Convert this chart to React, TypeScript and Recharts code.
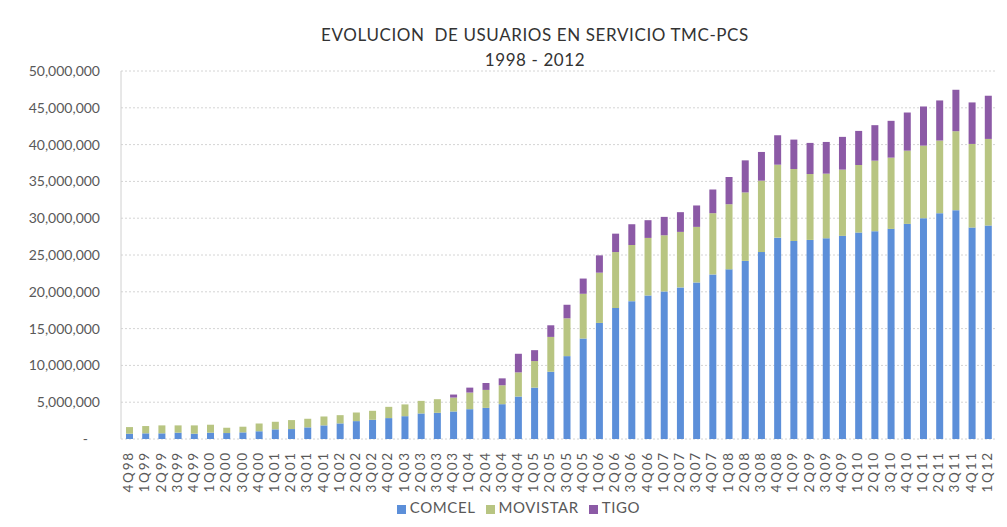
import React from 'react'
import { BarChart, Bar, XAxis, YAxis, CartesianGrid, Legend } from 'recharts'

// quarters 4Q98 .. 1Q12
const quarters = [
  '4Q98', '1Q99', '2Q99', '3Q99', '4Q99', '1Q00', '2Q00', '3Q00', '4Q00',
  '1Q01', '2Q01', '3Q01', '4Q01', '1Q02', '2Q02', '3Q02', '4Q02',
  '1Q03', '2Q03', '3Q03', '4Q03', '1Q04', '2Q04', '3Q04', '4Q04',
  '1Q05', '2Q05', '3Q05', '4Q05', '1Q06', '2Q06', '3Q06', '4Q06',
  '1Q07', '2Q07', '3Q07', '4Q07', '1Q08', '2Q08', '3Q08', '4Q08',
  '1Q09', '2Q09', '3Q09', '4Q09', '1Q10', '2Q10', '3Q10', '4Q10',
  '1Q11', '2Q11', '3Q11', '4Q11', '1Q12',
]

// users, millions
const comcel = [
  0.72, 0.77, 0.77, 0.86, 0.72, 0.86, 0.81, 0.9, 1.04,
  1.31, 1.35, 1.58, 1.85, 2.12, 2.43, 2.61, 2.84,
  3.1, 3.47, 3.56, 3.74, 4.05, 4.23, 4.73, 5.77,
  6.98, 9.14, 11.26, 13.65, 15.77, 17.8, 18.73, 19.5,
  20.05, 20.6, 21.27, 22.36, 23.05, 24.2, 25.4, 27.36,
  26.9, 27.05, 27.27, 27.6, 28.05, 28.23, 28.55, 29.23,
  30.0, 30.68, 31.09, 28.73, 29.0,
]
const movistar = [
  0.9, 0.99, 1.08, 0.99, 1.13, 1.08, 0.72, 0.77, 1.08,
  1.03, 1.22, 1.17, 1.21, 1.12, 1.17, 1.22, 1.53,
  1.6, 1.71, 1.85, 1.89, 2.26, 2.44, 2.57, 3.28,
  3.61, 4.73, 5.14, 6.08, 6.83, 7.6, 7.63, 7.82,
  7.63, 7.54, 7.55, 8.32, 8.85, 9.3, 9.7, 9.91,
  9.78, 8.95, 8.78, 9.0, 9.18, 9.59, 9.68, 9.95,
  9.86, 9.87, 10.73, 11.36, 11.77,
]
const tigo = [
  0, 0, 0, 0, 0, 0, 0, 0, 0,
  0, 0, 0, 0, 0, 0, 0, 0,
  0, 0, 0, 0.41, 0.67, 0.94, 0.94, 2.53,
  1.48, 1.58, 1.84, 2.07, 2.35, 2.5, 2.82, 2.41,
  2.5, 2.68, 2.91, 3.22, 3.7, 4.36, 3.9, 4.0,
  4.0, 4.23, 4.31, 4.45, 4.63, 4.82, 5.0, 5.18,
  5.32, 5.45, 5.63, 5.64, 5.87,
]

const yTicks = [0, 5e6, 10e6, 15e6, 20e6, 25e6, 30e6, 35e6, 40e6, 45e6, 50e6]
const boundaryTicks = quarters.map((_, i) => i).concat(quarters.length)

const data = quarters.map((q, i) => ({
  q,
  COMCEL: comcel[i] * 1e6,
  MOVISTAR: movistar[i] * 1e6,
  TIGO: tigo[i] * 1e6,
}))

const FONT = 'Lato, "Open Sans", sans-serif'
const TEXT = '#595959'

const YTick = (props: any) => {
  const { x, y, payload } = props
  const v = payload.value
  return (
    <text x={v === 0 ? x - 12 : x} y={y} dy={5} textAnchor="end" fill={TEXT} fontSize={14} fontFamily={FONT}>
      {v === 0 ? '-' : v.toLocaleString('en-US')}
    </text>
  )
}

const XTick = (props: any) => {
  const { x, y, payload } = props
  return (
    <text
      x={x}
      y={y}
      transform={`rotate(-90, ${x}, ${y})`}
      dy={4}
      textAnchor="end"
      fill={TEXT}
      fontSize={13.5}
      letterSpacing={1.8}
      fontFamily={FONT}
    >
      {payload.value}
    </text>
  )
}

export default function App() {
  return (
    <div style={{ position: 'absolute', left: 0, top: 0, width: 1007, height: 527, background: '#fff' }}>
      <div
        style={{
          position: 'absolute',
          left: 0,
          top: 22,
          width: 1070,
          textAlign: 'center',
          fontFamily: FONT,
          fontSize: 17,
          lineHeight: '25px',
          color: '#333',
          letterSpacing: 0.6,
          zIndex: 2,
        }}
      >
        <div>EVOLUCION&nbsp; DE USUARIOS EN SERVICIO TMC-PCS</div>
        <div>1998 - 2012</div>
      </div>
      <BarChart
        width={1007}
        height={527}
        data={data}
        margin={{ top: 71, right: 11, bottom: 0, left: 0 }}
        barSize={7}
      >
        <CartesianGrid vertical={false} stroke="#d4d4d4" strokeDasharray="2 2" />
        <XAxis
          xAxisId="edges"
          type="number"
          dataKey={() => 0}
          domain={[0, quarters.length]}
          ticks={boundaryTicks}
          tick={false}
          tickSize={5}
          tickLine={{ stroke: '#bfbfbf' }}
          axisLine={{ stroke: '#bfbfbf' }}
          height={0}
          allowDataOverflow
        />
        <XAxis
          dataKey="q"
          interval={0}
          tick={<XTick />}
          tickLine={false}
          axisLine={false}
          tickSize={0}
          tickMargin={12}
          height={88}
        />
        <YAxis
          domain={[0, 50e6]}
          ticks={yTicks}
          tick={<YTick />}
          tickLine={false}
          axisLine={{ stroke: '#d0d0d0' }}
          tickSize={0}
          tickMargin={21}
          width={121}
        />
        <Legend
          verticalAlign="middle"
          align="center"
          layout="horizontal"
          iconType="square"
          iconSize={9}
          wrapperStyle={{ top: 498, left: 20, width: 1007, fontFamily: FONT, fontSize: 15 }}
          formatter={(value: string) => <span style={{ color: TEXT, letterSpacing: 0.6 }}>{value}</span>}
        />
        <Bar dataKey="COMCEL" stackId="a" fill="#5C8FD9" isAnimationActive={false} />
        <Bar dataKey="MOVISTAR" stackId="a" fill="#B8C582" isAnimationActive={false} />
        <Bar dataKey="TIGO" stackId="a" fill="#8C5AA6" isAnimationActive={false} />
      </BarChart>
    </div>
  )
}
